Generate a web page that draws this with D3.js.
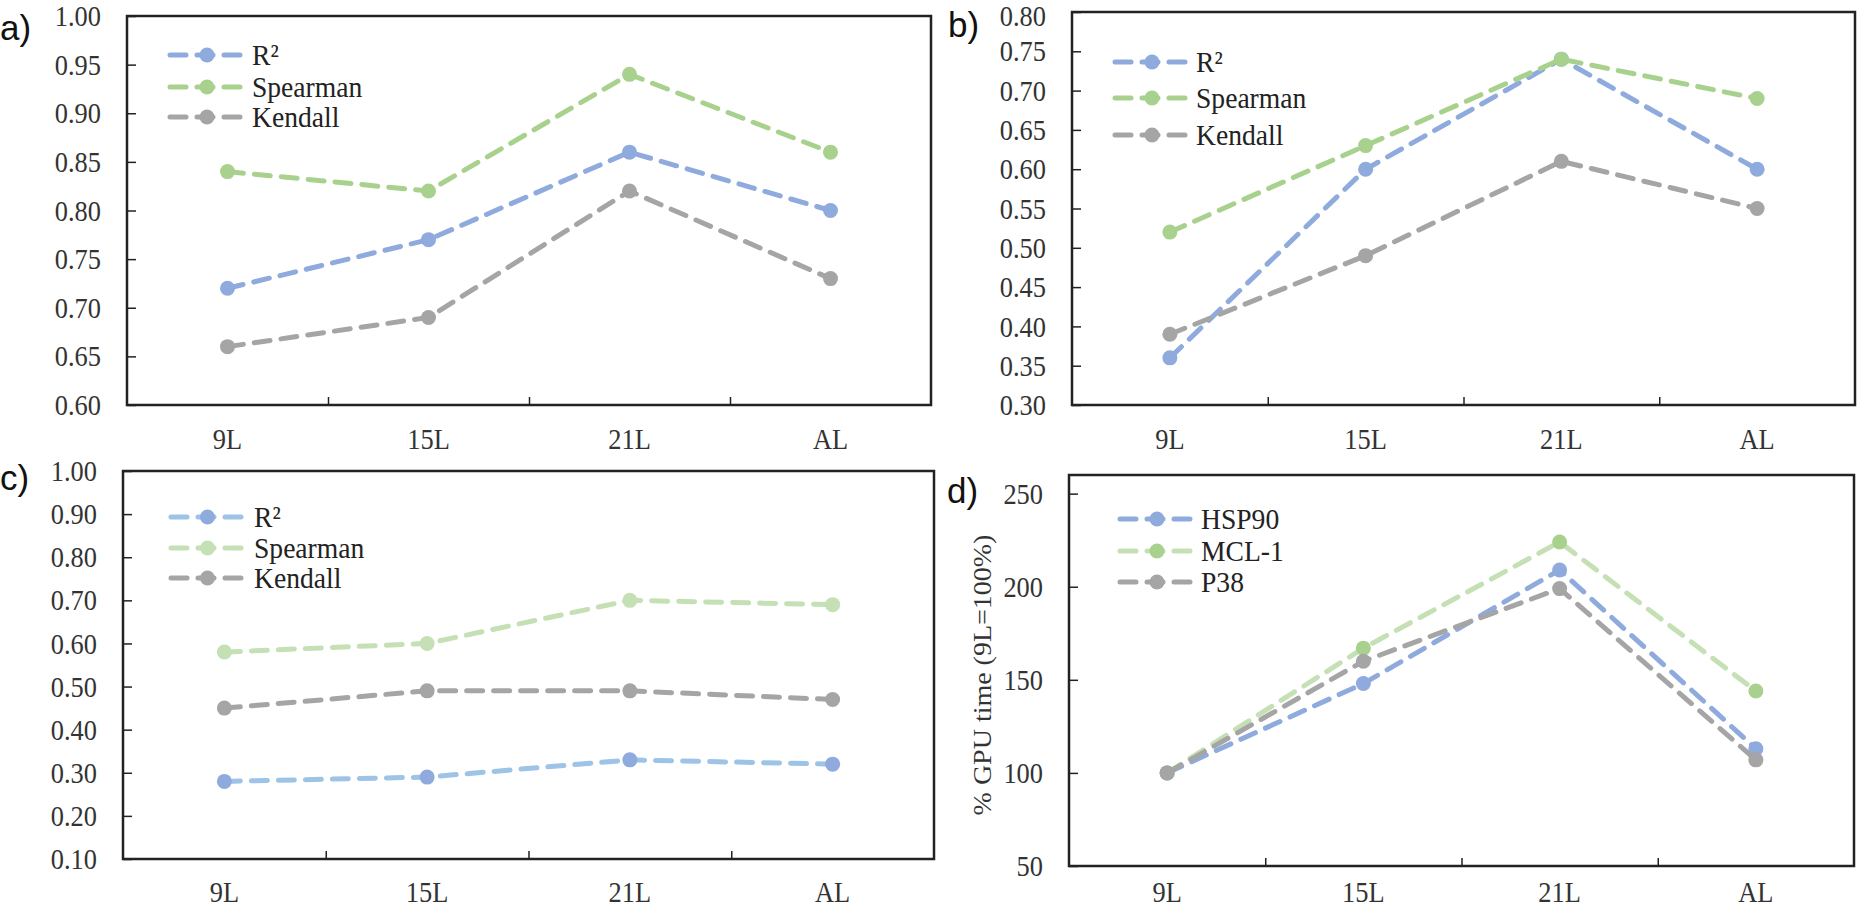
<!DOCTYPE html>
<html><head><meta charset="utf-8">
<script src="https://cdn.jsdelivr.net/npm/d3@7"></script>
<style>body{margin:0;background:#fff} svg{display:block}</style>
</head><body><svg id="chart" width="1859" height="910"></svg>
<script>
// ---------- DATA ----------
const categories = ["9L", "15L", "21L", "AL"];

const aR2       = [0.72, 0.77, 0.86, 0.80];
const aSpearman = [0.84, 0.82, 0.94, 0.86];
const aKendall  = [0.66, 0.69, 0.82, 0.73];

const bR2       = [0.36, 0.60, 0.74, 0.60];
const bSpearman = [0.52, 0.63, 0.74, 0.69];
const bKendall  = [0.39, 0.49, 0.61, 0.55];

const cR2       = [0.28, 0.29, 0.33, 0.32];
const cSpearman = [0.58, 0.60, 0.70, 0.69];
const cKendall  = [0.45, 0.49, 0.49, 0.47];

const dHSP90 = [100, 148, 209, 113];
const dMCL1  = [100, 167, 224, 144];
const dP38   = [100, 160, 199, 107];

const namesCorr = ["R²", "Spearman", "Kendall"];
const namesGPU  = ["HSP90", "MCL-1", "P38"];

const ticksA = [0.60, 0.65, 0.70, 0.75, 0.80, 0.85, 0.90, 0.95, 1.00];
const ticksB = [0.30, 0.35, 0.40, 0.45, 0.50, 0.55, 0.60, 0.65, 0.70, 0.75, 0.80];
const ticksC = [0.10, 0.20, 0.30, 0.40, 0.50, 0.60, 0.70, 0.80, 0.90, 1.00];
const ticksD = [50, 100, 150, 200, 250];
const yLabelD = "% GPU time (9L=100%)";

// ---------- STYLE / LAYOUT ----------
const BLUE = "#8FAADC", GREEN = "#A9D18E", GRAY = "#A5A5A5";
const LBLUE = "#9DC3E6", LGREEN = "#C5E0B4";
const SERIF = "'Liberation Serif','Times New Roman',serif";
const SANS = "'Liberation Sans',Arial,sans-serif";
const SX = 0.88;   // horizontal squeeze of serif text
const LW = 5, R = 7.5, DASH = "16,11";

const panels = [
  { tag: "a)", tagX: 0, tagY: 40, box: [127, 16, 931, 405], domain: [0.60, 1.00], ticks: ticksA, fmt: ".2f", xpad: 23, topNudge: 0,
    series: [ {name: namesCorr[0], values: aR2, line: BLUE, dot: BLUE},
              {name: namesCorr[1], values: aSpearman, line: GREEN, dot: GREEN},
              {name: namesCorr[2], values: aKendall, line: GRAY, dot: GRAY} ],
    legend: { x0: 170, x1: 244, tx: 252, ys: [55, 87, 117] } },
  { tag: "b)", tagX: 948, tagY: 37, box: [1072, 12, 1855, 405], domain: [0.30, 0.80], ticks: ticksB, fmt: ".2f", xpad: 23, topNudge: 4,
    series: [ {name: namesCorr[0], values: bR2, line: BLUE, dot: BLUE},
              {name: namesCorr[1], values: bSpearman, line: GREEN, dot: GREEN},
              {name: namesCorr[2], values: bKendall, line: GRAY, dot: GRAY} ],
    legend: { x0: 1115, x1: 1189, tx: 1196, ys: [62, 98, 135] } },
  { tag: "c)", tagX: 0, tagY: 490, box: [123, 471, 934, 859], domain: [0.10, 1.00], ticks: ticksC, fmt: ".2f", xpad: 22, topNudge: 0,
    series: [ {name: namesCorr[0], values: cR2, line: LBLUE, dot: BLUE},
              {name: namesCorr[1], values: cSpearman, line: LGREEN, dot: LGREEN},
              {name: namesCorr[2], values: cKendall, line: GRAY, dot: GRAY} ],
    legend: { x0: 171, x1: 244, tx: 254, ys: [517, 548, 578] } },
  { tag: "d)", tagX: 947, tagY: 503, box: [1069, 475, 1854, 866], domain: [50, 260], ticks: ticksD, fmt: "d", xpad: 15, topNudge: 0,
    ylabel: yLabelD, ylabelX: 982, ylabelY: 675,
    series: [ {name: namesGPU[0], values: dHSP90, line: BLUE, dot: BLUE},
              {name: namesGPU[1], values: dMCL1, line: LGREEN, dot: GREEN},
              {name: namesGPU[2], values: dP38, line: GRAY, dot: GRAY} ],
    legend: { x0: 1120, x1: 1194, tx: 1201, ys: [519, 551, 582] } }
];

const svg = d3.select("#chart");

function squeeze(sel) {
  sel.each(function () {
    const t = d3.select(this);
    const x = +t.attr("x") || 0;
    t.attr("x", x / SX).attr("transform", `scale(${SX},1)`);
  });
}

panels.forEach(p => {
  const [x0, y0, x1, y1] = p.box;
  const g = svg.append("g");

  const xBand = d3.scaleBand().domain(categories).range([x0, x1]).padding(0);
  const xIdx = d3.scaleLinear().domain([0, categories.length]).range([x0, x1]);
  const y = d3.scaleLinear().domain(p.domain).range([y1, y0]);

  // y axis (inward ticks)
  const ya = g.append("g").attr("transform", `translate(${x0},0)`)
    .call(d3.axisLeft(y).tickValues(p.ticks).tickFormat(d3.format(p.fmt))
      .tickSizeInner(-9).tickSizeOuter(0).tickPadding(26));
  ya.select(".domain").remove();
  ya.selectAll("line").attr("stroke", "#222").attr("stroke-width", 1.5);
  ya.selectAll("text").attr("font-family", SERIF).attr("font-size", 30).attr("fill", "#333").call(squeeze);
  if (p.topNudge) {
    const top = d3.max(p.ticks);
    ya.selectAll(".tick").filter(d => d === top).select("text").attr("y", p.topNudge);
  }

  // x axis: boundary ticks
  const xt = g.append("g").attr("transform", `translate(0,${y1})`)
    .call(d3.axisBottom(xIdx).tickValues(d3.range(1, categories.length)).tickFormat("")
      .tickSizeInner(-8).tickSizeOuter(0));
  xt.select(".domain").remove();
  xt.selectAll("line").attr("stroke", "#222").attr("stroke-width", 1.5);

  // x axis: category labels
  const xl = g.append("g").attr("transform", `translate(0,${y1})`)
    .call(d3.axisBottom(xBand).tickSize(0).tickPadding(p.xpad));
  xl.select(".domain").remove();
  xl.selectAll("text").attr("font-family", SERIF).attr("font-size", 30).attr("fill", "#333").call(squeeze);

  // frame
  g.append("rect").attr("x", x0).attr("y", y0).attr("width", x1 - x0).attr("height", y1 - y0)
    .attr("fill", "none").attr("stroke", "#222").attr("stroke-width", 2.5);

  // series
  const line = d3.line().x((d, i) => xBand(categories[i]) + xBand.bandwidth() / 2).y(d => y(d));
  p.series.forEach(s => {
    const sg = g.append("g");
    sg.append("path").attr("d", line(s.values)).attr("fill", "none")
      .attr("stroke", s.line).attr("stroke-width", LW)
      .attr("stroke-dasharray", DASH).attr("stroke-linecap", "round");
    sg.selectAll("circle").data(s.values).join("circle")
      .attr("cx", (d, i) => xBand(categories[i]) + xBand.bandwidth() / 2)
      .attr("cy", d => y(d)).attr("r", R).attr("fill", s.dot);
  });

  // legend
  p.series.forEach((s, i) => {
    const ly = p.legend.ys[i];
    g.append("line").attr("x1", p.legend.x0).attr("x2", p.legend.x1).attr("y1", ly).attr("y2", ly)
      .attr("stroke", s.line).attr("stroke-width", LW)
      .attr("stroke-dasharray", DASH).attr("stroke-linecap", "round");
    g.append("circle").attr("cx", (p.legend.x0 + p.legend.x1) / 2).attr("cy", ly).attr("r", R).attr("fill", s.dot);
    g.append("text").attr("x", p.legend.tx / 0.92).attr("y", ly).attr("dy", "0.33em")
      .attr("transform", "scale(0.92,1)")
      .attr("font-family", SERIF).attr("font-size", 30).attr("fill", "#222").text(s.name);
  });

  // panel tag
  svg.append("text").attr("x", p.tagX).attr("y", p.tagY)
    .attr("font-family", SANS).attr("font-size", 35).attr("fill", "#111").text(p.tag);

  // y label
  if (p.ylabel) {
    svg.append("text")
      .attr("transform", `translate(${p.ylabelX},${p.ylabelY}) rotate(-90) scale(1,${SX})`)
      .attr("text-anchor", "middle").attr("dy", "0.35em")
      .attr("font-family", SERIF).attr("font-size", 28).attr("fill", "#333").text(p.ylabel);
  }
});
</script>
</body></html>
